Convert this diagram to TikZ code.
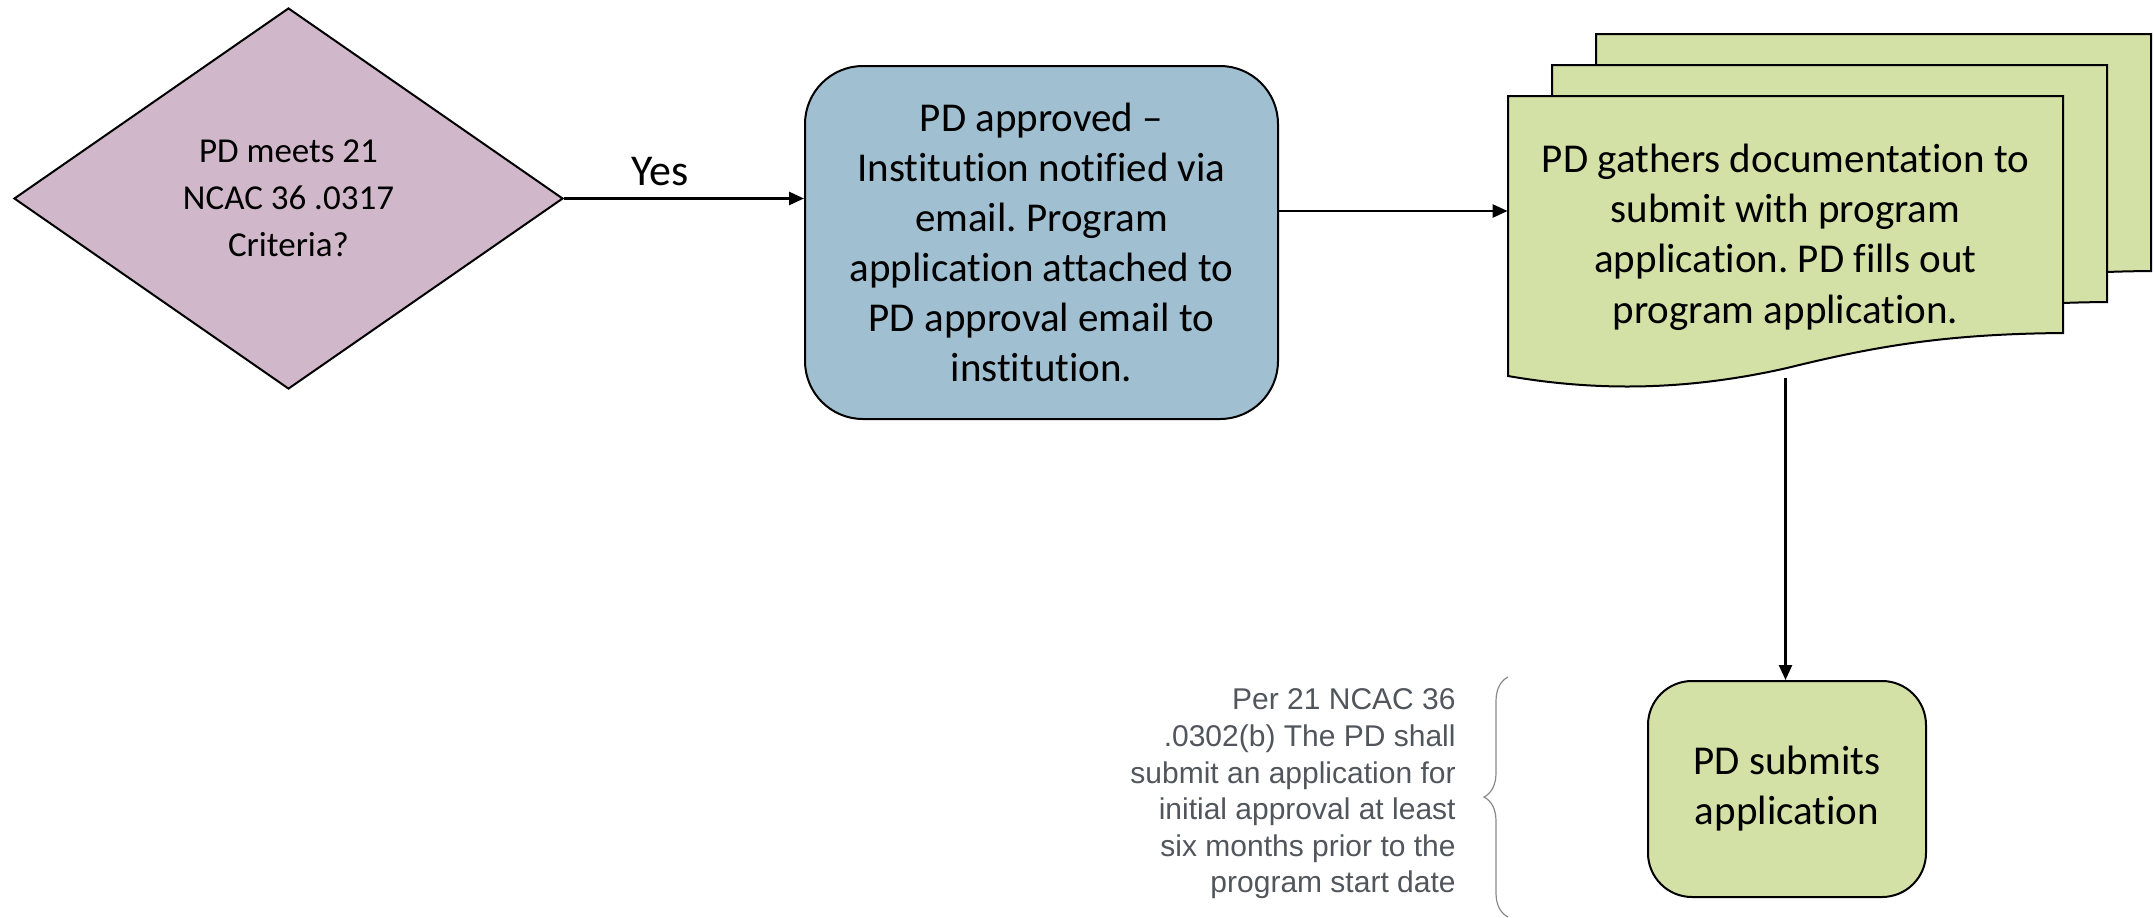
\documentclass[tikz,border=0pt]{standalone}
\usepackage{fontspec}
\setmainfont{Carlito}[Ligatures={TeX,NoCommon}]
\newfontfamily\notefont{Liberation Sans}
\usetikzlibrary{shapes.geometric,arrows.meta,decorations.pathreplacing,positioning}
\definecolor{mauve}{HTML}{D0B8CA}
\definecolor{steel}{HTML}{A0BFD0}
\definecolor{lime}{HTML}{D3E0A6}
\definecolor{notegray}{HTML}{51565C}
\definecolor{bracegray}{HTML}{8A8A8A}
\frenchspacing

\tikzset{
  flow/.style={-{Triangle[length=7.5pt,width=6.5pt]}, line width=1.3pt},
  box/.style={draw, line width=1pt, align=center, inner sep=0pt,
    font=\fontsize{20.5}{25}\selectfont},
  sheet/.style={draw, line width=1pt, fill=lime},
}

\begin{document}
\begin{tikzpicture}[x=0.5pt,y=-0.5pt]
\useasboundingbox (0,0) rectangle (2154,917);

% stacked sheets, back to front
\foreach \s in {2,1,0}
  \draw[sheet, shift={(44*\s,-31*\s)}] (1508,96) -- (2063,96) -- (2063,333)
    .. controls (1950,334) and (1880,345) .. (1787,368)
    .. controls (1690,390) and (1600,392) .. (1508,376) -- cycle;

\node[diamond, draw, line width=1pt, fill=mauve, minimum width=274.5pt,
  minimum height=190.5pt, inner sep=0pt, align=center,
  font=\fontsize{17.5}{23.5}\selectfont] (crit) at (288.5,198.5)
  {PD meets 21\\NCAC 36 .0317\\Criteria?};

\node[box, rounded corners=29pt, fill=steel, minimum width=236.5pt,
  minimum height=176.5pt] (appr) at (1041.5,242.5)
  {PD approved –\\Institution notified via\\email. Program\\application attached to\\PD approval email to\\institution.};

\node[align=center, inner sep=0pt, minimum width=277.5pt, minimum height=141pt,
  font=\fontsize{20.5}{25.2}\selectfont] (doc) at (1785.5,237)
  {PD gathers documentation to\\submit with program\\application. PD fills out\\program application.};

\node[box, rounded corners=22pt, fill=lime, minimum width=139pt,
  minimum height=108pt] (sub) at (1787,789) {PD submits\\application};

\node[anchor=east, align=right, inner sep=0pt, text=notegray,
  font=\notefont\fontsize{15}{18.3}\selectfont] (note) at (1456,794)
  {Per 21 NCAC 36\\.0302(b) The PD shall\\submit an application for\\initial approval at least\\six months prior to the\\program start date};

\coordinate (bbot) at (1508,917);
\coordinate (btop) at (1508,677);
\draw[bracegray, line width=0.6pt, decorate, decoration={brace, amplitude=12pt}] (bbot) -- (btop);

% connectors
\draw[flow] (crit.east) -- node[pos=0.4, above=3.5pt, inner sep=2pt,
  font=\fontsize{22}{26}\selectfont] (yes) {Yes} (crit.east -| appr.west);
\draw[flow] ([yshift=15.75pt]appr.east) -- ([yshift=15.75pt]appr.east -| doc.west);
\draw[flow] (doc.south) -- (doc.south |- sub.north);
\end{tikzpicture}
\end{document}
